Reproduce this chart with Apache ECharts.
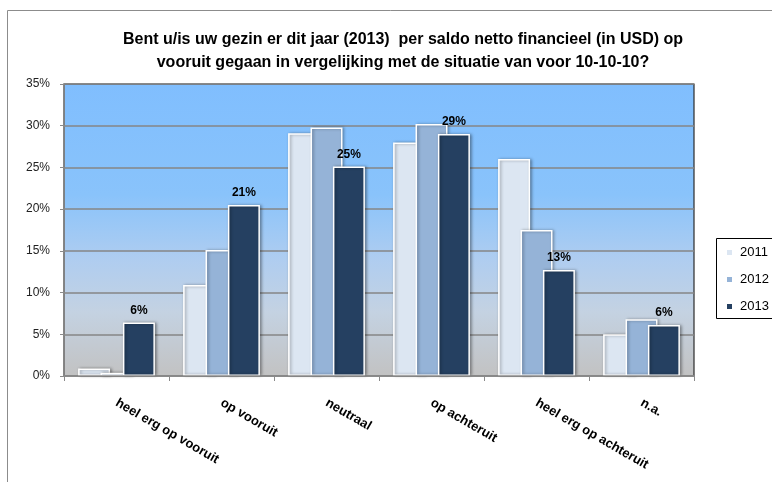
<!DOCTYPE html>
<html>
<head>
<meta charset="utf-8">
<script src="https://cdn.jsdelivr.net/npm/echarts@6/dist/echarts.min.js"></script>
<style>
html,body{margin:0;padding:0;background:#fff;}
#chart{width:772px;height:482px;}
</style>
</head>
<body>
<div id="chart"></div>
<script>
var titleLines = ['Bent u/is uw gezin er dit jaar (2013)  per saldo netto financieel (in USD) op', 'vooruit gegaan in vergelijking met de situatie van voor 10-10-10?'];
var categories = ['heel erg op vooruit', 'op vooruit', 'neutraal', 'op achteruit', 'heel erg op achteruit', 'n.a.'];
var seriesNames = ['2011', '2012', '2013'];
var values2011 = [0.9, 10.9, 29.1, 28.0, 26.0, 5.0];
var values2012 = [0.4, 15.1, 29.8, 30.2, 17.5, 6.8];
var values2013 = [6.4, 20.5, 25.1, 29.0, 12.7, 6.1];
var yTicks = [0, 5, 10, 15, 20, 25, 30, 35];

var FONT = "'Liberation Sans', sans-serif";
var colors = ['#DCE6F2', '#95B3D7', '#254061'];
var allValues = [values2011, values2012, values2013];

var chart = echarts.init(document.getElementById('chart'), null, {renderer: 'canvas'});

var series = seriesNames.map(function (name, i) {
  var s = {
    name: name,
    type: 'bar',
    data: allValues[i],
    barWidth: 32,
    barGap: '-30%',
    itemStyle: {
      color: colors[i],
      borderColor: '#ffffff',
      borderWidth: 1.5,
      shadowColor: 'rgba(0,0,0,0.35)',
      shadowBlur: 3,
      shadowOffsetX: 1.5,
      shadowOffsetY: 0
    },
    emphasis: {disabled: true},
    z: 2 + i
  };
  if (i === 2) {
    s.label = {
      show: true,
      position: 'top',
      distance: 6,
      fontFamily: FONT,
      fontWeight: 'bold',
      fontSize: 12,
      color: '#000',
      formatter: function (p) { return Math.round(p.value) + '%'; }
    };
  }
  return s;
});

var option = {
  animation: false,
  textStyle: {fontFamily: FONT},
  title: {
    text: titleLines.join('\n'),
    left: 398,
    textAlign: 'center',
    top: 23,
    textStyle: {fontFamily: FONT, fontWeight: 'bold', fontSize: 16, lineHeight: 23, color: '#000'}
  },
  graphic: [
    {type: 'rect', shape: {x: 7.5, y: 10.5, width: 800, height: 500}, style: {fill: 'none', stroke: '#8c8c8c', lineWidth: 1}, z: -10},
    {type: 'rect', shape: {x: 716.5, y: 238.5, width: 70, height: 80}, style: {fill: '#fff', stroke: '#000', lineWidth: 1}, z: 0}
  ],
  legend: {
    data: seriesNames,
    orient: 'vertical',
    left: 725,
    top: 246,
    padding: 0,
    itemWidth: 7,
    itemHeight: 7,
    itemGap: 14,
    icon: 'rect',
    z: 10,
    textStyle: {fontFamily: FONT, fontSize: 13, lineHeight: 13, color: '#000', padding: [0, 0, 0, 2]}
  },
  grid: {
    left: 64, right: 78, top: 84, bottom: 106,
    show: true,
    borderColor: '#2b2b2b',
    borderWidth: 1.2,
    backgroundColor: {
      type: 'linear', x: 0, y: 0, x2: 0, y2: 1,
      colorStops: [
        {offset: 0, color: '#80BEFE'},
        {offset: 0.38, color: '#89C3FB'},
        {offset: 0.6, color: '#AFCDF0'},
        {offset: 0.78, color: '#C4D2E2'},
        {offset: 1, color: '#C2C2C2'}
      ]
    }
  },
  xAxis: {
    type: 'category',
    data: categories,
    axisLine: {show: true, lineStyle: {color: '#8a8a8a', width: 1.5}},
    axisTick: {show: true, alignWithLabel: false, length: 5, lineStyle: {color: '#8a8a8a'}},
    axisLabel: {
      interval: 0,
      rotate: -30,
      margin: 26,
      fontFamily: FONT,
      fontWeight: 'bold',
      fontSize: 13,
      color: '#000'
    },
    z: 5
  },
  yAxis: {
    type: 'value',
    min: yTicks[0],
    max: yTicks[yTicks.length - 1],
    interval: 5,
    axisLine: {show: true, lineStyle: {color: '#8a8a8a', width: 1.5}},
    axisTick: {show: true, length: 4, lineStyle: {color: '#8a8a8a'}},
    splitLine: {show: true, lineStyle: {color: '#868686', width: 1.5}},
    axisLabel: {
      margin: 14,
      fontFamily: FONT,
      fontSize: 12,
      color: '#222',
      formatter: function (v) { return v + '%'; }
    }
  },
  series: series
};
chart.setOption(option);
</script>
</body>
</html>
